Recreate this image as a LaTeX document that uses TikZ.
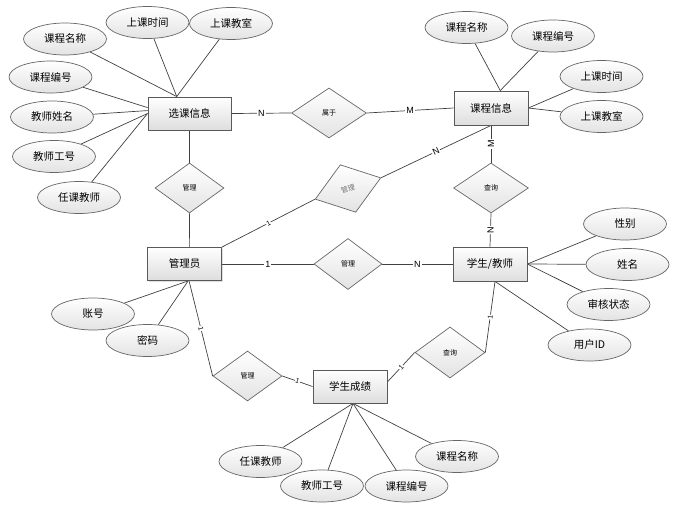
\documentclass[tikz,border=0pt]{standalone}
\usepackage{fontspec}
\setmainfont{Liberation Sans}
\newfontfamily\cjk{Noto Sans CJK SC}
\usetikzlibrary{shapes.geometric,backgrounds,shadows}
\begin{document}
\begin{tikzpicture}[x=1pt,y=-1pt,
  conn/.style={draw=black!75, line width=0.7pt},
  ent/.style={rectangle, draw=black!65, line width=0.9pt, top color=white, bottom color=black!13,
    minimum width=74pt, minimum height=33pt, inner sep=0pt,
    font=\cjk\fontsize{10.5}{12}\selectfont,
    drop shadow={shadow xshift=1pt,shadow yshift=-1pt,opacity=0.25}},
  attr/.style={ellipse, draw=black!60, line width=0.7pt, top color=white, bottom color=black!11,
    minimum width=83pt, minimum height=32pt, inner sep=0pt,
    font=\cjk\fontsize{10.5}{12}\selectfont},
  rel/.style={diamond, draw=black!60, line width=0.7pt, top color=white, bottom color=black!11,
    minimum width=69pt, minimum height=50pt, inner sep=0pt,
    font=\cjk\fontsize{7}{8}\selectfont},
  card/.style={fill=white, inner sep=1pt, font=\fontsize{9}{10}\selectfont},
  tick/.style={fill=white, inner sep=0.5pt, sloped, font=\fontsize{7}{8}\selectfont},
]
\useasboundingbox (0,0) rectangle (680,511);

% entities
\node[ent, minimum width=83pt] (xk) at (189.5,113.5) {选课信息};
\node[ent, minimum height=34pt] (kc) at (491,108) {课程信息};
\node[ent] (gl) at (184.5,264) {管理员};
\node[ent, minimum height=34pt] (xs) at (490,264) {学生/教师};
\node[ent] (cj) at (350,386.5) {学生成绩};

% relationships
\node[rel] (r1) at (189.5,188) {管理};
\node[rel, minimum width=75pt] (sy) at (329,113) {属于};
\node[rel, minimum width=75pt] (cx1) at (491,188) {查询};
\node[rel, rotate=18, text=black!55] (r2) at (348,188.5) {管理};
\node[rel, minimum width=68pt, minimum height=51pt] (r3) at (348,264) {管理};
\node[rel] (r4) at (247.5,376) {管理};
\node[rel, minimum width=70pt, minimum height=51pt] (cx2) at (450,352.5) {查询};

% attributes
\node[attr] (a1) at (65,39) {课程名称};
\node[attr] (a2) at (147.5,22.5) {上课时间};
\node[attr] (a3) at (231,23.5) {上课教室};
\node[attr] (a4) at (50.5,77) {课程编号};
\node[attr] (a5) at (52,117) {教师姓名};
\node[attr] (a6) at (54,156.5) {教师工号};
\node[attr] (a7) at (79,197.5) {任课教师};

\node[attr] (b1) at (466.5,27.5) {课程名称};
\node[attr] (b2) at (553,36) {课程编号};
\node[attr] (b3) at (601.5,76.5) {上课时间};
\node[attr] (b4) at (601.5,116.5) {上课教室};

\node[attr] (c1) at (625,224) {性别};
\node[attr] (c2) at (627.5,264.5) {姓名};
\node[attr] (c3) at (608.5,304.5) {审核状态};
\node[attr] (c4) at (589.5,345) {用户ID};

\node[attr] (d1) at (93,314) {账号};
\node[attr] (d2) at (147.5,340.5) {密码};

\node[attr] (e1) at (260.5,461.5) {任课教师};
\node[attr] (e2) at (322,486) {教师工号};
\node[attr] (e3) at (406.5,486) {课程编号};
\node[attr] (e4) at (457,456.5) {课程名称};

\begin{scope}[on background layer]
% attribute links
\draw[conn] (a1) -- (xk.127);
\draw[conn] (a2) -- (xk.127);
\draw[conn] (a3) -- (xk.127);
\draw[conn] (a4) -- (xk.172);
\draw[conn] (a5) -- (xk.176);
\draw[conn] (a6) -- (xk.west);
\draw[conn] (a7) -- (xk.west);

\draw[conn] (b1) -- (kc.62);
\draw[conn] (b2) -- (kc.62);
\draw[conn] (b3) -- (kc.east);
\draw[conn] (b4) -- (kc.east);

\draw[conn] (c1) -- (xs.east);
\draw[conn] (c2) -- (xs.east);
\draw[conn] (c3) -- (xs.east);
\draw[conn] (c4) -- (xs.-74);

\draw[conn] (d1) -- (gl.-78);
\draw[conn] (d2) -- (gl.-78);

\draw[conn] (e1) -- (cj.-80);
\draw[conn] (e2) -- (cj.-80);
\draw[conn] (e3) -- (cj.-80);
\draw[conn] (e4) -- (cj.-80);

% relationship links
\draw[conn] (xk.east) -- node[card]{N} (sy.west);
\draw[conn] (sy.east) -- node[card]{M} (kc.west);
\draw[conn] (xk.south) -- (r1.north);
\draw[conn] (r1.south) -- (gl.74);
\draw[conn] (kc.south) -- node[card, rotate=90]{M} (cx1.north);
\draw[conn] (cx1.south) -- node[card, rotate=90]{N} (xs.north);
\draw[conn] (gl.north east) -- node[tick]{1} (r2.west);
\draw[conn] (r2.east) -- node[card, sloped]{N} (kc.south);
\draw[conn] (gl.east) -- node[card]{1} (r3.west);
\draw[conn] (r3.east) -- node[card]{N} (xs.west);
\draw[conn] (gl.-75) -- node[tick]{1} (r4.west);
\draw[conn] (r4.east) -- node[tick]{1} (cj.west);
\draw[conn] (cj.7) -- node[tick]{1} (cx2.west);
\draw[conn] (cx2.east) -- node[tick]{1} (xs.-74);
\end{scope}
\end{tikzpicture}
\end{document}
